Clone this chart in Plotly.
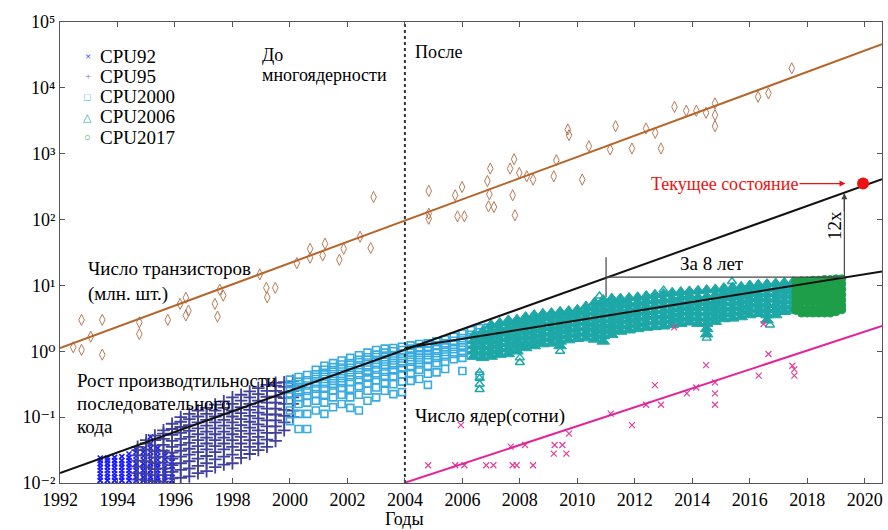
import plotly.graph_objects as go

# ---------------- data ----------------
# transistor counts, millions (brown diamonds)
trans_year = [1992.46, 1992.75, 1992.75, 1993.07, 1993.47, 1993.47, 1994.76, 1994.76, 1995.75,
              1996.18, 1996.38, 1996.38, 1996.47, 1997.39, 1997.48, 1997.56, 1997.68, 1998.95,
              1999.18, 1999.21, 1999.49, 2000.24, 2000.70, 2000.70, 2001.14, 2001.22, 2001.72,
              2001.87, 2002.44, 2002.81, 2002.91,
              2004.83, 2004.83, 2004.83, 2005.75, 2005.99, 2005.83, 2006.07, 2006.87, 2006.97,
              2006.94, 2006.91, 2007.10, 2007.66, 2007.80, 2007.75, 2007.83, 2007.98, 2008.24,
              2008.46, 2009.18, 2009.27, 2009.67, 2009.71, 2010.17, 2010.40, 2011.14, 2011.33,
              2011.90, 2012.39, 2012.71, 2012.91, 2013.38, 2013.79, 2014.14, 2014.48, 2014.79,
              2014.79, 2014.79, 2016.29, 2016.65, 2017.46]
trans_val = [1.15, 3.0, 1.05, 1.67, 3.0, 0.89, 2.75, 1.83, 3.0,
             5.25, 6.5, 3.5, 4.15, 5.25, 3.37, 8.6, 7.0, 14.7,
             9.2, 6.6, 9.2, 21.8, 36, 26.3, 28.5, 43, 24.5,
             36, 55, 37, 220,
             272, 123, 103, 234, 312, 112, 112, 385, 595,
             242, 159, 155, 595, 825, 234, 116, 510, 455,
             405, 455, 796, 2335, 1914, 405, 1300, 1160, 2620,
             1200, 2420, 2075, 1200, 5150, 4490, 4490, 4180, 5810,
             3855, 2620, 7330, 8250, 19800]

# number of cores, hundreds (pink crosses)
cores_year = [2004.81, 2005.75, 2006.07, 2005.95, 2006.83, 2007.08, 2007.68, 2007.75, 2007.89,
              2008.18, 2008.46, 2009.21, 2009.48, 2009.18, 2009.62, 2009.71, 2011.16, 2011.90,
              2012.39, 2012.70, 2012.91, 2013.81, 2014.14, 2014.48, 2014.79, 2014.79, 2014.79,
              2013.37, 2016.48, 2016.31, 2016.65, 2017.48, 2017.55, 2017.55]
cores_val = [0.0186, 0.0186, 0.0186, 0.0755, 0.0186, 0.0186, 0.0357, 0.0186, 0.0186,
             0.0378, 0.0186, 0.0378, 0.0378, 0.0279, 0.0279, 0.0562, 0.113, 0.0755,
             0.154, 0.307, 0.154, 0.229, 0.282, 0.618, 0.337, 0.229, 0.154,
             2.31, 2.6, 0.426, 0.91, 0.604, 0.53, 0.426]

# single-thread performance clouds: column year -> list of log10(performance)
cpu92_year = [1993.4, 1993.65, 1993.9, 1994.15, 1994.4, 1994.65, 1994.9, 1995.15, 1995.4, 1995.65, 1995.9]
cpu92_log = [
    [-2.02, -1.96, -1.91, -1.86, -1.81, -1.76, -1.71, -1.66, -1.62],
    [-2.02, -1.96, -1.91, -1.86, -1.81, -1.76, -1.71, -1.66, -1.62],
    [-2.02, -1.96, -1.91, -1.86, -1.81, -1.76, -1.71, -1.66, -1.61],
    [-2.02, -1.96, -1.91, -1.86, -1.81, -1.76, -1.71, -1.66, -1.60],
    [-2.02, -1.96, -1.91, -1.86, -1.81, -1.76, -1.71, -1.66, -1.61, -1.56],
    [-2.02, -1.96, -1.91, -1.86, -1.81, -1.76, -1.71, -1.65, -1.59, -1.53, -1.49],
    [-2.02, -1.96, -1.91, -1.86, -1.81, -1.76, -1.71, -1.65, -1.59, -1.53, -1.48],
    [-2.02, -1.96, -1.91, -1.86, -1.81, -1.76, -1.71, -1.65, -1.59, -1.53, -1.47, -1.40, -1.30],
    [-2.02, -1.96, -1.91, -1.86, -1.81, -1.76, -1.71, -1.65, -1.59, -1.53, -1.47],
    [-2.02, -1.96, -1.91, -1.86, -1.81, -1.76, -1.70, -1.64, -1.58, -1.53],
    [-2.02, -1.96, -1.91, -1.86, -1.80, -1.74, -1.68, -1.62, -1.57],
]

cpu95_year = [1994.7, 1995.0, 1995.3, 1995.6, 1995.9, 1996.2, 1996.5, 1996.8, 1997.1, 1997.4,
              1997.7, 1998.0, 1998.3, 1998.6, 1998.9, 1999.2, 1999.5, 1999.8, 2000.1]
cpu95_log = [
    [-1.95, -1.85, -1.75, -1.66, -1.58, -1.50, -1.45],
    [-1.96, -1.86, -1.76, -1.67, -1.58, -1.49, -1.40, -1.35],
    [-1.97, -1.88, -1.79, -1.70, -1.61, -1.52, -1.43, -1.35, -1.28],
    [-1.98, -1.88, -1.78, -1.69, -1.60, -1.51, -1.42, -1.33, -1.25, -1.20],
    [-1.93, -1.83, -1.73, -1.63, -1.54, -1.45, -1.36, -1.27, -1.18, -1.10],
    [-1.92, -1.80, -1.70, -1.60, -1.51, -1.42, -1.33, -1.24, -1.15, -1.07, -1.00],
    [-1.90, -1.78, -1.67, -1.57, -1.48, -1.39, -1.30, -1.21, -1.12, -1.03, -0.95],
    [-1.85, -1.74, -1.63, -1.53, -1.44, -1.35, -1.26, -1.17, -1.08, -0.99, -0.90],
    [-1.82, -1.70, -1.59, -1.49, -1.40, -1.31, -1.22, -1.13, -1.04, -0.95, -0.86],
    [-1.76, -1.64, -1.53, -1.44, -1.35, -1.26, -1.17, -1.08, -0.99, -0.90, -0.81],
    [-1.72, -1.60, -1.49, -1.40, -1.31, -1.22, -1.13, -1.04, -0.95, -0.86, -0.76],
    [-1.70, -1.57, -1.45, -1.35, -1.26, -1.17, -1.08, -0.99, -0.90, -0.80, -0.70],
    [-1.62, -1.50, -1.40, -1.30, -1.21, -1.12, -1.03, -0.94, -0.85, -0.75, -0.66],
    [-1.56, -1.45, -1.35, -1.25, -1.16, -1.07, -0.98, -0.89, -0.80, -0.70, -0.61],
    [-1.50, -1.40, -1.30, -1.20, -1.11, -1.02, -0.93, -0.84, -0.75, -0.65, -0.56],
    [-1.45, -1.34, -1.24, -1.14, -1.05, -0.96, -0.87, -0.78, -0.69, -0.60, -0.51],
    [-1.36, -1.24, -1.14, -1.05, -0.96, -0.87, -0.78, -0.69, -0.60, -0.52, -0.48],
    [-1.20, -1.08, -0.98, -0.89, -0.80, -0.71, -0.62, -0.54, -0.47],
    [-1.00, -0.90, -0.80, -0.70, -0.60, -0.52, -0.45],
]

cpu2000_year = [2000.0, 2000.3, 2000.6, 2000.9, 2001.2, 2001.5, 2001.8, 2002.1, 2002.4, 2002.7,
                2003.0, 2003.3, 2003.6, 2003.9, 2004.2, 2004.5, 2004.8, 2005.1, 2005.4, 2005.7,
                2006.0, 2006.3, 2006.6, 2006.9]
cpu2000_log = [
    [-1.06, -0.90, -0.75, -0.66, -0.58, -0.50, -0.43],
    [-1.18, -0.95, -0.80, -0.70, -0.62, -0.54, -0.46, -0.39],
    [-1.18, -0.95, -0.78, -0.68, -0.60, -0.52, -0.44, -0.36],
    [-0.90, -0.75, -0.65, -0.57, -0.49, -0.42, -0.35, -0.28],
    [-0.95, -0.78, -0.66, -0.57, -0.49, -0.42, -0.35, -0.28, -0.22],
    [-0.85, -0.70, -0.60, -0.52, -0.45, -0.38, -0.31, -0.24, -0.18],
    [-0.80, -0.66, -0.56, -0.48, -0.41, -0.34, -0.27, -0.20, -0.14],
    [-0.86, -0.70, -0.57, -0.47, -0.39, -0.32, -0.25, -0.18, -0.10],
    [-0.90, -0.66, -0.53, -0.44, -0.36, -0.28, -0.21, -0.13, -0.06],
    [-0.75, -0.60, -0.49, -0.40, -0.32, -0.24, -0.17, -0.09, -0.02],
    [-0.70, -0.55, -0.44, -0.36, -0.28, -0.20, -0.13, -0.05, 0.02],
    [-0.60, -0.48, -0.39, -0.31, -0.23, -0.16, -0.09, -0.02, 0.04],
    [-0.65, -0.50, -0.38, -0.29, -0.21, -0.14, -0.07, 0.00, 0.05],
    [-0.62, -0.46, -0.35, -0.26, -0.18, -0.11, -0.04, 0.02, 0.07],
    [-0.45, -0.33, -0.24, -0.16, -0.09, -0.02, 0.04, 0.09],
    [-0.42, -0.28, -0.20, -0.13, -0.06, 0.01, 0.06, 0.11],
    [-0.51, -0.34, -0.22, -0.13, -0.06, 0.01, 0.07, 0.12],
    [-0.32, -0.18, -0.10, -0.03, 0.03, 0.09, 0.15],
    [-0.27, -0.16, -0.08, -0.01, 0.06, 0.12, 0.18],
    [-0.12, -0.04, 0.03, 0.10, 0.16, 0.22],
    [-0.30, -0.10, -0.02, 0.06, 0.13, 0.20, 0.27],
    [-0.06, 0.02, 0.10, 0.18, 0.25, 0.32],
    [-0.37, 0.14, 0.22, 0.29, 0.35],
    [0.22, 0.29, 0.36],
]

cpu2006_year = [2006.4, 2006.7, 2007.0, 2007.3, 2007.6, 2007.9, 2008.2, 2008.5, 2008.8, 2009.1,
                2009.4, 2009.7, 2010.0, 2010.3, 2010.6, 2010.9, 2011.2, 2011.5, 2011.8, 2012.1,
                2012.4, 2012.7, 2013.0, 2013.3, 2013.6, 2013.9, 2014.2, 2014.5, 2014.8, 2015.1,
                2015.4, 2015.7, 2016.0, 2016.3, 2016.6, 2016.9, 2017.2, 2017.5]
cpu2006_log = [
    [-0.08, 0.00, 0.08, 0.16, 0.24],
    [-0.10, -0.02, 0.06, 0.14, 0.22, 0.30],
    [-0.08, 0.00, 0.08, 0.16, 0.24, 0.32, 0.40],
    [-0.05, 0.03, 0.11, 0.19, 0.27, 0.35, 0.43],
    [-0.04, 0.04, 0.12, 0.20, 0.28, 0.36, 0.44, 0.47],
    [0.00, 0.08, 0.16, 0.24, 0.32, 0.40, 0.48],
    [0.05, 0.13, 0.21, 0.29, 0.37, 0.45, 0.52],
    [0.08, 0.16, 0.24, 0.32, 0.40, 0.48, 0.55],
    [0.11, 0.19, 0.27, 0.35, 0.43, 0.51, 0.57],
    [0.12, 0.20, 0.28, 0.36, 0.44, 0.52, 0.58],
    [0.08, 0.15, 0.23, 0.31, 0.39, 0.47, 0.54, 0.60],
    [0.17, 0.25, 0.33, 0.41, 0.49, 0.56, 0.61],
    [0.19, 0.27, 0.35, 0.43, 0.51, 0.58, 0.63],
    [0.20, 0.28, 0.36, 0.44, 0.52, 0.60, 0.68],
    [0.18, 0.26, 0.34, 0.42, 0.50, 0.58, 0.66, 0.74],
    [0.15, 0.23, 0.31, 0.39, 0.47, 0.55, 0.63, 0.71, 0.78],
    [0.25, 0.33, 0.41, 0.49, 0.57, 0.65, 0.73, 0.80],
    [0.30, 0.38, 0.46, 0.54, 0.62, 0.70, 0.77, 0.80],
    [0.32, 0.40, 0.48, 0.56, 0.64, 0.72, 0.81],
    [0.34, 0.42, 0.50, 0.58, 0.66, 0.74, 0.82],
    [0.36, 0.44, 0.52, 0.60, 0.68, 0.76, 0.84],
    [0.37, 0.45, 0.53, 0.61, 0.69, 0.77, 0.86],
    [0.38, 0.46, 0.54, 0.62, 0.70, 0.78, 0.87],
    [0.40, 0.48, 0.56, 0.64, 0.72, 0.80, 0.89],
    [0.42, 0.50, 0.58, 0.66, 0.74, 0.82, 0.90],
    [0.44, 0.52, 0.60, 0.68, 0.76, 0.84, 0.91],
    [0.42, 0.50, 0.58, 0.66, 0.74, 0.82, 0.92],
    [0.26, 0.34, 0.42, 0.50, 0.58, 0.66, 0.74, 0.83, 0.93],
    [0.45, 0.53, 0.61, 0.69, 0.77, 0.85, 0.94],
    [0.49, 0.57, 0.65, 0.73, 0.81, 0.89, 0.96],
    [0.50, 0.58, 0.66, 0.74, 0.82, 0.90, 0.97],
    [0.52, 0.60, 0.68, 0.76, 0.84, 0.92, 0.98],
    [0.55, 0.63, 0.71, 0.79, 0.87, 0.94, 1.00],
    [0.57, 0.65, 0.73, 0.81, 0.88, 0.95, 1.01],
    [0.47, 0.55, 0.63, 0.71, 0.79, 0.87, 0.95, 1.02],
    [0.55, 0.63, 0.71, 0.79, 0.87, 0.95, 1.03],
    [0.60, 0.68, 0.76, 0.84, 0.92, 0.99, 1.04],
    [0.62, 0.70, 0.78, 0.86, 0.94, 1.01, 1.05],
]
# scattered CPU2006 outliers (year, log10)
cpu2006_out_year = [2006.6, 2006.6, 2006.6, 2006.6, 2008.0, 2008.0, 2009.4, 2010.77, 2014.5, 2015.38, 2013.0, 2016.7]
cpu2006_out_log = [-0.32, -0.41, -0.50, -0.58, -0.10, -0.17, 0.00, 0.84, 0.20, 1.06, 0.93, 0.40]

cpu2017_year = [2017.6, 2017.8, 2018.0, 2018.2, 2018.4, 2018.6, 2018.8, 2019.0, 2019.2]
cpu2017_log = [
    [0.62, 0.66, 0.74, 0.82, 0.90, 0.98, 1.06],
    [0.58, 0.64, 0.75, 0.83, 0.91, 0.99, 1.07],
    [0.58, 0.64, 0.75, 0.83, 0.91, 0.99, 1.07],
    [0.58, 0.64, 0.75, 0.83, 0.91, 0.99, 1.08],
    [0.58, 0.64, 0.75, 0.83, 0.91, 0.99, 1.08],
    [0.58, 0.65, 0.75, 0.83, 0.91, 0.99, 1.09],
    [0.58, 0.65, 0.76, 0.84, 0.92, 1.00, 1.09],
    [0.60, 0.66, 0.76, 0.84, 0.92, 1.00, 1.10],
    [0.63, 0.70, 0.78, 0.86, 0.94, 1.02, 1.10],
]

# trend lines (end points)
trans_line_x, trans_line_y = [1992, 2020.6], [1.12, 46000]
seq_line_x, seq_line_y = [1992, 2020.6], [0.0142, 410]
multi_line_x, multi_line_y = [2004, 2020.6], [1.12, 16.3]
cores_line_x, cores_line_y = [2004, 2020.6], [0.0101, 2.42]
split_year = 2004
gap_x, gap_y = [2011.0, 2019.29], [13.4, 13.4]
gap_tick_x, gap_tick_y = [2011.0, 2011.0], [6.6, 26.9]
rise_x, rise_y = [2019.29, 2019.29], [13.4, 250]
now_x, now_y = [2019.94], [352]

year_ticks = list(range(1992, 2021, 2))
y_tickvals = [0.01, 0.1, 1, 10, 100, 1000, 10000, 100000]
y_ticktext = ["10⁻²", "10⁻¹", "10⁰", "10¹", "10²", "10³", "10⁴", "10⁵"]


def flatten(years, cols):
    xs, ys = [], []
    for yr, col in zip(years, cols):
        for e in col:
            xs.append(yr)
            ys.append(10 ** e)
    return xs, ys


SERIF = "Liberation Serif, DejaVu Serif, Times New Roman, serif"
fig = go.Figure()

series = [
    ("CPU92", cpu92_year, cpu92_log, "x-thin", 5, 1.6, "#1a1aff"),
    ("CPU95", cpu95_year, cpu95_log, "cross-thin", 9, 1.8, "#41419a"),
    ("CPU2000", cpu2000_year, cpu2000_log, "square-open", 7, 1.6, "#38ace0"),
    ("CPU2006", cpu2006_year, cpu2006_log, "triangle-up", 11, 1.0, "#1ea7a7"),
    ("CPU2017", cpu2017_year, cpu2017_log, "circle", 8, 1.0, "#1f9e4a"),
]
for name, yrs, cols, sym, size, lw, col in series:
    xs, ys = flatten(yrs, cols)
    fig.add_trace(go.Scatter(x=xs, y=ys, mode="markers", name=name, showlegend=False,
                             marker=dict(symbol=sym, size=size, color=col,
                                         line=dict(width=lw, color=col))))
fig.add_trace(go.Scatter(x=cpu2006_out_year, y=[10 ** e for e in cpu2006_out_log], mode="markers",
                         name="CPU2006", showlegend=False,
                         marker=dict(symbol="triangle-up-open", size=8, color="#1ea7a7",
                                     line=dict(width=1.4, color="#1ea7a7"))))

fig.add_trace(go.Scatter(x=trans_year, y=trans_val, mode="markers", showlegend=False,
                         marker=dict(symbol="diamond-tall-open", size=8, color="#b97a55",
                                     line=dict(width=1, color="#b97a55"))))
fig.add_trace(go.Scatter(x=cores_year, y=cores_val, mode="markers", showlegend=False,
                         marker=dict(symbol="x-thin", size=6, color="#e0409e",
                                     line=dict(width=1.2, color="#e0409e"))))

# lines
fig.add_trace(go.Scatter(x=trans_line_x, y=trans_line_y, mode="lines", showlegend=False,
                         line=dict(color="#b5652a", width=2)))
fig.add_trace(go.Scatter(x=seq_line_x, y=seq_line_y, mode="lines", showlegend=False,
                         line=dict(color="#111111", width=2)))
fig.add_trace(go.Scatter(x=multi_line_x, y=multi_line_y, mode="lines", showlegend=False,
                         line=dict(color="#111111", width=2)))
fig.add_trace(go.Scatter(x=cores_line_x, y=cores_line_y, mode="lines", showlegend=False,
                         line=dict(color="#e3239a", width=2)))
fig.add_trace(go.Scatter(x=[split_year, split_year], y=[y_tickvals[0], y_tickvals[-1]], mode="lines",
                         showlegend=False, line=dict(color="#333333", width=2, dash="dot")))
for gx, gy in [(gap_x, gap_y), (gap_tick_x, gap_tick_y), (rise_x, rise_y)]:
    fig.add_trace(go.Scatter(x=gx, y=gy, mode="lines", showlegend=False,
                             line=dict(color="#444444", width=1.2)))
fig.add_trace(go.Scatter(x=now_x, y=now_y, mode="markers", showlegend=False,
                         marker=dict(color="#ee1111", size=12)))

ann = []


def txt(x, y, s, size=19, color="black", xanchor="left", **kw):
    ann.append(dict(x=x, y=y, xref="paper", yref="paper", text=s, showarrow=False,
                    xanchor=xanchor, yanchor="middle", font=dict(family=SERIF, size=size, color=color), **kw))


# legend built from text
legend_rows = [("×", "CPU92", "#2a2aff", 0.926), ("+", "CPU95", "#7676c4", 0.882),
               ("□", "CPU2000", "#38ace0", 0.838), ("△", "CPU2006", "#1ea7a7", 0.794),
               ("○", "CPU2017", "#3aa862", 0.750)]
for g, lab, c, yy in legend_rows:
    txt(0.034, yy, g, size=11, color=c, xanchor="center")
    txt(0.046, yy, lab, size=19)

txt(0.2433, 0.928, "До", size=18)
txt(0.2433, 0.885, "многоядерности", size=18)
txt(0.4294, 0.935, "После", size=18)
txt(0.0316, 0.466, "Число транзисторов")
txt(0.0316, 0.410, "(млн. шт.)")
txt(0.0182, 0.2234, "Рост производтильности")
txt(0.0182, 0.1735, "последовательного")
txt(0.0182, 0.1215, "кода")
txt(0.4294, 0.1453, "Число ядер(сотни)")
txt(0.4197, -0.079, "Годы", size=18, xanchor="center")
txt(0.7932, 0.4772, "За 8 лет", xanchor="center")
txt(0.9428, 0.5597, "12x", xanchor="center", textangle=-90)

# arrow heads
ann.append(dict(x=rise_x[1], y=2.398, xref="x", yref="y", text=" ", showarrow=True,
                ax=0, ay=22, arrowhead=2, arrowsize=1, arrowwidth=1.2, arrowcolor="#444444",
                font=dict(size=4)))
ann.append(dict(x=2019.33, y=2.546, xref="x", yref="y", text="Текущее состояние", showarrow=True,
                ax=-121, ay=0, arrowhead=2, arrowsize=1, arrowwidth=1.2, arrowcolor="#ee1111",
                font=dict(family=SERIF, size=18, color="#ee1111")))

axis_common = dict(showline=True, mirror="ticks", linecolor="#555555", linewidth=1,
                   ticks="inside", ticklen=5, tickcolor="#555555", showgrid=False, zeroline=False,
                   tickfont=dict(family=SERIF, size=18, color="black"))
fig.update_layout(
    width=888, height=530,
    margin=dict(l=60, r=6, t=22, b=47),
    paper_bgcolor="white", plot_bgcolor="white",
    font=dict(family=SERIF),
    xaxis=dict(range=[1992, 2020.6], tickvals=year_ticks, **axis_common),
    yaxis=dict(type="log", range=[-2, 5], tickvals=y_tickvals, ticktext=y_ticktext, **axis_common),
    annotations=ann,
    showlegend=False,
)
fig.write_html("out.html", config={"displayModeBar": False},
               post_script="document.body.style.margin='0px';document.body.style.overflow='hidden';")
